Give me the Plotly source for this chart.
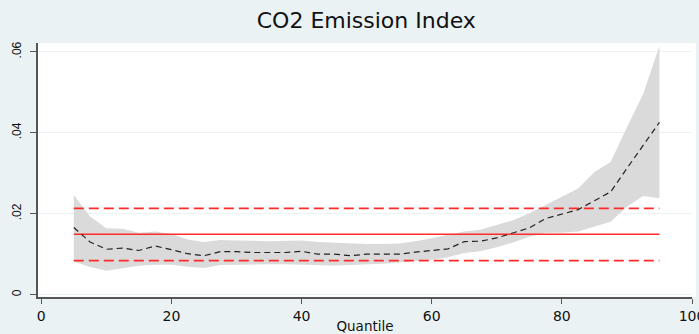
import plotly.graph_objects as go

# Quantiles
quantile = [5, 7.5, 10, 12.5, 15, 17.5, 20, 22.5, 25, 27.5, 30, 32.5, 35, 37.5, 40, 42.5,
            45, 47.5, 50, 52.5, 55, 57.5, 60, 62.5, 65, 67.5, 70, 72.5, 75, 77.5, 80,
            82.5, 85, 87.5, 90, 92.5, 95]

# Quantile regression coefficient
coef = [0.0166, 0.0130, 0.0112, 0.0115, 0.0109, 0.0120, 0.0111, 0.0101, 0.0096, 0.0106,
        0.0106, 0.0104, 0.0104, 0.0104, 0.0107, 0.0100, 0.0100, 0.0096, 0.0100, 0.0100,
        0.0100, 0.0105, 0.0109, 0.0113, 0.0131, 0.0132, 0.0140, 0.0152, 0.0165, 0.0188,
        0.0199, 0.0210, 0.0232, 0.0254, 0.0312, 0.0368, 0.0426]

# Confidence band
ci_upper = [0.0246, 0.0193, 0.0164, 0.0163, 0.0153, 0.0156, 0.0150, 0.0136, 0.0130, 0.0135,
            0.0134, 0.0133, 0.0132, 0.0133, 0.0134, 0.0130, 0.0128, 0.0126, 0.0125, 0.0125,
            0.0126, 0.0132, 0.0139, 0.0148, 0.0156, 0.0160, 0.0172, 0.0184, 0.0201, 0.0221,
            0.0242, 0.0262, 0.0303, 0.0328, 0.0414, 0.0496, 0.0615]
ci_lower = [0.0082, 0.0068, 0.0059, 0.0065, 0.0071, 0.0074, 0.0074, 0.0069, 0.0066, 0.0073,
            0.0074, 0.0075, 0.0075, 0.0075, 0.0074, 0.0073, 0.0072, 0.0073, 0.0074, 0.0076,
            0.0079, 0.0082, 0.0086, 0.0092, 0.0103, 0.0107, 0.0117, 0.0129, 0.0143, 0.0153,
            0.0153, 0.0156, 0.0168, 0.0180, 0.0217, 0.0244, 0.0238]

# OLS estimate and its confidence interval
ols_x = [5, 95]
ols_coef = 0.0149
ols_lo = 0.0084
ols_hi = 0.0213

x_ticks = [0, 20, 40, 60, 80, 100]
x_ticklabels = ["0", "20", "40", "60", "80", "100"]
y_ticks = [0, 0.02, 0.04, 0.06]
y_ticklabels = ["0", ".02", ".04", ".06"]

BAND = "#DADADA"
RED = "#FF2A2A"
BG = "#EAF2F3"
FONT = "DejaVu Sans"

fig = go.Figure()

fig.add_trace(go.Scatter(x=quantile, y=ci_lower, mode="lines", line=dict(width=0, color=BAND),
                         hoverinfo="skip", showlegend=False))
fig.add_trace(go.Scatter(x=quantile, y=ci_upper, mode="lines", line=dict(width=0, color=BAND),
                         fill="tonexty", fillcolor=BAND, hoverinfo="skip", showlegend=False))

fig.add_trace(go.Scatter(x=ols_x, y=[ols_hi, ols_hi], mode="lines",
                         line=dict(color=RED, width=1.6, dash="10px,5px"), showlegend=False))
fig.add_trace(go.Scatter(x=ols_x, y=[ols_coef, ols_coef], mode="lines",
                         line=dict(color=RED, width=1.6), showlegend=False))
fig.add_trace(go.Scatter(x=ols_x, y=[ols_lo, ols_lo], mode="lines",
                         line=dict(color=RED, width=1.6, dash="10px,5px"), showlegend=False))

fig.add_trace(go.Scatter(x=quantile, y=coef, mode="lines",
                         line=dict(color="#222222", width=1.2, dash="6px,4px"), showlegend=False))

fig.update_layout(
    width=699, height=334,
    margin=dict(l=38, r=7, t=43, b=37, autoexpand=False),
    paper_bgcolor=BG,
    plot_bgcolor="white",
    font=dict(family=FONT, color="#111111"),
    title=dict(text="CO2 Emission Index", x=0.524, xanchor="center", y=0.94, yanchor="middle",
               font=dict(family=FONT, size=22, color="#111111")),
    shapes=[dict(type="rect", xref="paper", yref="paper", x0=1.0, x1=1.006, y0=0, y1=1,
                 fillcolor="white", line=dict(width=0), layer="below")],
)

fig.update_xaxes(
    range=[-0.5, 100], tickvals=x_ticks, ticktext=x_ticklabels,
    showgrid=False, zeroline=False, automargin=False,
    showline=True, linecolor="#555555", linewidth=1.5,
    ticks="outside", ticklen=5, tickcolor="#555555", tickwidth=1.2,
    ticklabeloverflow="allow",
    tickfont=dict(family=FONT, size=14, color="#111111"),
    title=dict(text="Quantile", font=dict(family=FONT, size=13.5, color="#111111"), standoff=0),
)
fig.update_yaxes(
    range=[-0.0006, 0.0622], tickvals=y_ticks, ticktext=y_ticklabels,
    showgrid=True, gridcolor=BG, gridwidth=1, zeroline=False, automargin=False,
    showline=True, linecolor="#555555", linewidth=1.5,
    ticks="outside", ticklen=6, tickcolor="#555555", tickwidth=1.2,
    tickangle=-90, ticklabelstandoff=4,
    tickfont=dict(family="Liberation Sans", size=12, color="#111111"),
)

fig.write_html(
    "out.html",
    config={"displayModeBar": False},
    post_script="document.body.style.margin='0';document.body.style.padding='0';",
)
